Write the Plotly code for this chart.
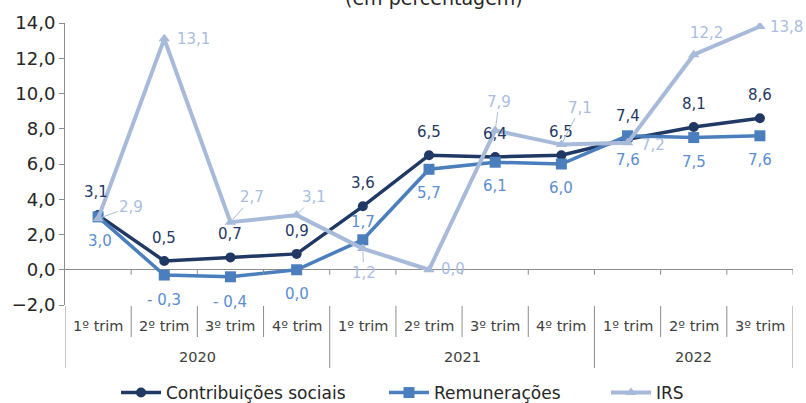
import plotly.graph_objects as go

# Quarterly growth rates (%), 2020 Q1 .. 2022 Q3
anos = ["2020", "2021", "2022"]
trimestres_por_ano = [4, 4, 3]
trimestres = ["1º trim", "2º trim", "3º trim", "4º trim",
              "1º trim", "2º trim", "3º trim", "4º trim",
              "1º trim", "2º trim", "3º trim"]
contribuicoes = [3.1, 0.5, 0.7, 0.9, 3.6, 6.5, 6.4, 6.5, 7.4, 8.1, 8.6]
remuneracoes = [3.0, -0.3, -0.4, 0.0, 1.7, 5.7, 6.1, 6.0, 7.6, 7.5, 7.6]
irs = [2.9, 13.1, 2.7, 3.1, 1.2, 0.0, 7.9, 7.1, 7.2, 12.2, 13.8]

FONT = "DejaVu Sans"
C_CONTRIB = "#1F3864"
C_REMUN = "#4A7EBD"
C_IRS = "#A8BAD9"
C_REMUN_TXT = "#5B8DD3"
C_IRS_TXT = "#A9BDE0"
AXIS_GRAY = "#8C8C8C"

W, H = 806, 403
M_L, M_R, M_T, M_B = 62, 13, 23, 98
PLOT_H = H - M_T - M_B


def py(px):
    """Pixel row -> paper y coordinate."""
    return (H - M_B - px) / PLOT_H


def fmt(v):
    s = f"{abs(v):.1f}".replace(".", ",")
    return f"- {s}" if v < 0 else s


x = list(range(len(trimestres)))

fig = go.Figure()
fig.add_trace(go.Scatter(
    x=x, y=contribuicoes, name="Contribuições sociais", mode="lines+markers",
    line=dict(color=C_CONTRIB, width=3.5), legend="legend",
    marker=dict(symbol="circle", size=10, color=C_CONTRIB)))
fig.add_trace(go.Scatter(
    x=x, y=remuneracoes, name="Remunerações", mode="lines+markers",
    line=dict(color=C_REMUN, width=3.5), legend="legend2",
    marker=dict(symbol="square", size=11, color=C_REMUN)))
fig.add_trace(go.Scatter(
    x=x, y=irs, name="IRS", mode="lines+markers",
    line=dict(color=C_IRS, width=4), legend="legend3",
    marker=dict(symbol="triangle-up", size=10, color=C_IRS)))

annotations = []
label_font = 15

# Contribuições: labels above the points
for i, v in enumerate(contribuicoes):
    annotations.append(dict(x=i, y=v, xref="x", yref="y", text=fmt(v),
                            showarrow=False, yshift=23, xshift=-2 if i == 0 else 0,
                            font=dict(family=FONT, size=label_font, color=C_CONTRIB)))

# Remunerações: labels below, except 1st trim 2021
rem_shift = [-24, -25, -25, -24, 18, -24, -24, -24, -24, -24, -24]
for i, v in enumerate(remuneracoes):
    annotations.append(dict(x=i, y=v, xref="x", yref="y", text=fmt(v),
                            showarrow=False, yshift=rem_shift[i],
                            xshift=2 if i == 0 else 0,
                            font=dict(family=FONT, size=label_font, color=C_REMUN_TXT)))

# IRS: offset labels, some with leader lines
irs_off = [(33, -12, True), (29, 0, False), (22, -25, True), (17, -18, True),
           (1, 24, True), (24, -1, False), (4, -29, True), (19, -37, True),
           (25, 2, False), (13, -22, False), (27, 0, False)]
for i, v in enumerate(irs):
    dx, dy, lead = irs_off[i]
    if lead:
        annotations.append(dict(x=i, y=v, xref="x", yref="y", text=fmt(v),
                                showarrow=True, arrowhead=0, arrowwidth=1,
                                arrowcolor=C_IRS_TXT, ax=dx, ay=dy, standoff=3,
                                font=dict(family=FONT, size=label_font, color=C_IRS_TXT)))
    else:
        annotations.append(dict(x=i, y=v, xref="x", yref="y", text=fmt(v),
                                showarrow=False, xshift=dx, yshift=-dy,
                                font=dict(family=FONT, size=label_font, color=C_IRS_TXT)))

# Category axis: quarter and year labels
for i, t in enumerate(trimestres):
    annotations.append(dict(x=i, y=py(326), xref="x", yref="paper", text=t,
                            showarrow=False, yanchor="middle",
                            font=dict(family=FONT, size=14.5, color="#404040")))
start = 0
bounds_year = [-0.5]
for ano, n in zip(anos, trimestres_por_ano):
    annotations.append(dict(x=start + (n - 1) / 2, y=py(357), xref="x", yref="paper",
                            text=ano, showarrow=False, yanchor="middle",
                            font=dict(family=FONT, size=14.5, color="#404040")))
    start += n
    bounds_year.append(start - 0.5)

# Subtitle, mostly above the visible area
annotations.append(dict(x=408 / W, y=py(-2), xref="paper", yref="paper",
                        text="(em percentagem)", showarrow=False, yanchor="middle",
                        font=dict(family=FONT, size=19, color="#262626")))

shapes = []
for k in range(len(trimestres) + 1):
    b = k - 0.5
    y_end = py(368) if b in bounds_year else py(337)
    shapes.append(dict(type="line", xref="x", yref="paper", x0=b, x1=b,
                       y0=py(306), y1=y_end, line=dict(color=AXIS_GRAY, width=1)))
    if k > 0:
        shapes.append(dict(type="line", xref="x", yref="y", ysizemode="pixel",
                           yanchor=0, x0=b, x1=b, y0=0, y1=-5,
                           line=dict(color=AXIS_GRAY, width=1)))


def legend_at(px_left):
    return dict(orientation="h", xref="container", yref="container",
                x=px_left / W, xanchor="left", y=1 - 393 / H, yanchor="middle",
                font=dict(family=FONT, size=17, color="#262626"),
                itemwidth=40, bgcolor="rgba(0,0,0,0)")


fig.update_layout(
    width=W, height=H,
    margin=dict(l=M_L, r=M_R, t=M_T, b=M_B),
    paper_bgcolor="white", plot_bgcolor="white",
    separators=",.",
    showlegend=True,
    legend=legend_at(116),
    legend2=legend_at(384),
    legend3=legend_at(606),
    xaxis=dict(range=[-0.5, len(trimestres) - 0.5], showticklabels=False,
               showgrid=False, zeroline=False, showline=False, ticks=""),
    yaxis=dict(range=[-2, 14], dtick=2, tick0=0, tickformat=".1f",
               showgrid=False, showline=True, linecolor=AXIS_GRAY, linewidth=1,
               ticks="outside", ticklen=5, tickcolor=AXIS_GRAY,
               zeroline=True, zerolinecolor=AXIS_GRAY, zerolinewidth=1,
               tickfont=dict(family=FONT, size=18, color="#262626")),
    annotations=annotations,
    shapes=shapes,
)

fig.write_html("out.html")
